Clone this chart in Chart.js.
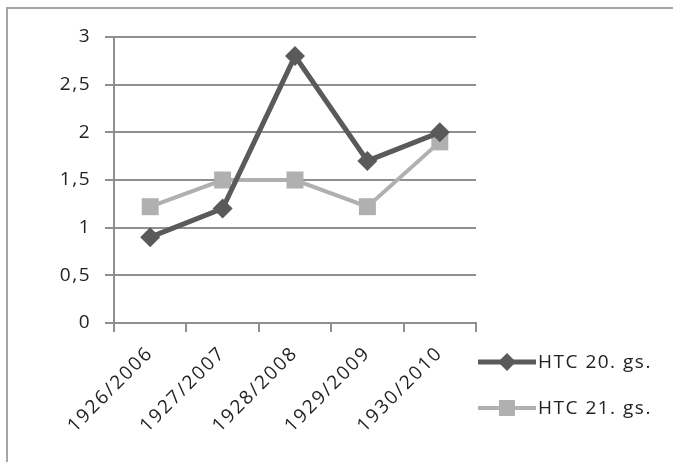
<!DOCTYPE html>
<html>
<head>
<meta charset="utf-8">
<script src="https://cdn.jsdelivr.net/npm/chart.js@4/dist/chart.umd.min.js"></script>
<style>
  html, body { margin: 0; padding: 0; background: #fff; }
  #wrap { position: relative; width: 673px; height: 462px; overflow: hidden; }
  #frame { position: absolute; left: 6px; top: 7px; width: 680px; height: 470px; border-left: 2px solid #a6a6a6; border-top: 2px solid #a6a6a6; box-sizing: border-box; }
  canvas { position: absolute; left: 0; top: 0; }
</style>
</head>
<body>
<div id="wrap">
  <div id="frame"></div>
  <canvas id="c" width="673" height="462"></canvas>
</div>
<script>
const categories = ["1926/2006", "1927/2007", "1928/2008", "1929/2009", "1930/2010"];
const seriesNames = ["HTC 20. gs.", "HTC 21. gs."];
const htc20 = [0.9, 1.2, 2.8, 1.7, 2.0];
const htc21 = [1.22, 1.5, 1.5, 1.22, 1.9];
const yTicks = [0, 0.5, 1, 1.5, 2, 2.5, 3];

const FONT = "'Open Sans', 'Liberation Sans', sans-serif";
const TEXT = '#222222';

const spacingPlugin = {
  id: 'labelSpacing',
  afterLayout(chart) {
    const map = { x: '2px', y: '1.5px' };
    Object.keys(map).forEach(id => {
      const s = chart.scales[id];
      if (!s || s._spPatched) return;
      const orig = s.drawLabels;
      s.drawLabels = function (area) {
        const ctx = this.ctx;
        ctx.save();
        ctx.letterSpacing = map[id];
        orig.call(this, area);
        ctx.restore();
      };
      s._spPatched = true;
    });
  }
};

const legendPlugin = {
  id: 'customLegend',
  afterDraw(chart) {
    const ctx = chart.ctx;
    const ys = [362, 408];
    ctx.save();
    chart.data.datasets.forEach((ds, i) => {
      const y = ys[i];
      ctx.strokeStyle = ds.borderColor;
      ctx.lineWidth = ds.borderWidth;
      ctx.beginPath();
      ctx.moveTo(478, y);
      ctx.lineTo(536, y);
      ctx.stroke();
      ctx.fillStyle = ds.pointBackgroundColor;
      const cx = 507;
      if (ds.pointStyle === 'rectRot') {
        const r = 9;
        ctx.beginPath();
        ctx.moveTo(cx, y - r);
        ctx.lineTo(cx + r, y);
        ctx.lineTo(cx, y + r);
        ctx.lineTo(cx - r, y);
        ctx.closePath();
        ctx.fill();
      } else {
        ctx.fillRect(cx - 8, y - 8, 16, 16);
      }
      ctx.fillStyle = TEXT;
      ctx.font = '19px ' + FONT;
      ctx.letterSpacing = '1.5px';
      ctx.textBaseline = 'middle';
      ctx.textAlign = 'left';
      ctx.fillText(ds.label, 538, y + 1);
    });
    ctx.restore();
  }
};

new Chart(document.getElementById('c'), {
  type: 'line',
  data: {
    labels: categories,
    datasets: [
      {
        label: seriesNames[0],
        data: htc20,
        borderColor: '#5a5a5a',
        backgroundColor: '#5a5a5a',
        pointBackgroundColor: '#5a5a5a',
        pointBorderColor: '#5a5a5a',
        pointStyle: 'rectRot',
        pointRadius: 10,
        pointBorderWidth: 0,
        borderWidth: 5,
        tension: 0
      },
      {
        label: seriesNames[1],
        data: htc21,
        borderColor: '#b0b0b0',
        backgroundColor: '#b0b0b0',
        pointBackgroundColor: '#b0b0b0',
        pointBorderColor: '#b0b0b0',
        pointStyle: 'rect',
        pointRadius: 12,
        pointBorderWidth: 0,
        borderWidth: 4,
        tension: 0
      }
    ]
  },
  options: {
    responsive: false,
    animation: false,
    devicePixelRatio: 1,
    layout: { padding: { left: 0, top: 37, right: 197, bottom: 0 } },
    plugins: { legend: { display: false }, tooltip: { enabled: false } },
    scales: {
      x: {
        offset: true,
        grid: { offset: true, drawOnChartArea: false, drawTicks: true, tickLength: 9, color: '#8f8f8f', lineWidth: 2 },
        border: { display: true, color: '#8f8f8f', width: 2 },
        ticks: { color: TEXT, font: { family: FONT, size: 19 }, maxRotation: 45, minRotation: 45, padding: 10, autoSkip: false },
        afterFit(scale) { scale.height = 139; }
      },
      y: {
        min: 0, max: 3,
        afterBuildTicks(scale) { scale.ticks = yTicks.map(v => ({ value: v })); },
        grid: { color: '#8f8f8f', lineWidth: 2, drawTicks: true, tickLength: 9 },
        border: { display: true, color: '#8f8f8f', width: 2 },
        ticks: {
          color: TEXT, font: { family: FONT, size: 19 }, padding: 14,
          callback: v => String(v).replace('.', ',')
        },
        afterFit(scale) { scale.width = 114; }
      }
    }
  },
  plugins: [spacingPlugin, legendPlugin]
});
</script>
</body>
</html>
